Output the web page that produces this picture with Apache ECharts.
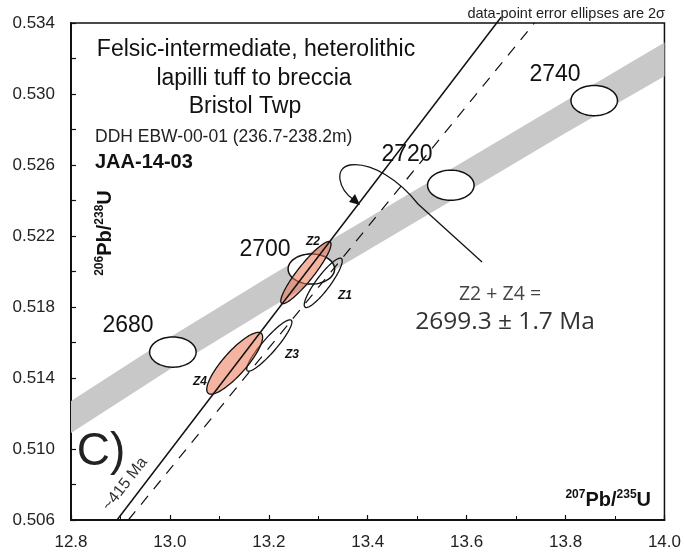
<!DOCTYPE html>
<html>
<head>
<meta charset="utf-8">
<script src="https://cdn.jsdelivr.net/npm/echarts@6/dist/echarts.min.js"></script>
<style>
  html, body { margin: 0; padding: 0; background: #fff; }
  #main { width: 684px; height: 552px; }
</style>
</head>
<body>
<div id="main"></div>
<script>
/* concordia band */
var bandX = [12.8, 13.0, 13.2, 13.4, 13.6, 13.8, 14.0];
var bandUpper = [0.5127, 0.5163, 0.5197, 0.5230, 0.5263, 0.5296, 0.5329];
var bandLower = [0.5109, 0.5145, 0.5179, 0.5212, 0.5245, 0.5278, 0.5310];

/* age markers on the concordia */
var ageLabels = ["2680", "2700", "2720", "2740"];
var ageX = [13.006, 13.286, 13.568, 13.858];
var ageY = [0.51546, 0.52014, 0.52486, 0.52963];
var ageErrX = [0.047, 0.047, 0.047, 0.047];
var ageErrY = [0.00085, 0.00085, 0.00085, 0.00085];

/* zircon analyses (2 sigma ellipses) */
var grains = ["Z1", "Z2", "Z3", "Z4"];
var grainX = [13.310, 13.275, 13.201, 13.131];
var grainY = [0.51936, 0.51994, 0.51583, 0.51483];
var grainErrX = [0.0384, 0.0508, 0.0457, 0.0565];
var grainErrY = [0.00139, 0.00175, 0.00145, 0.00174];
var grainRho = [0.890, 0.915, 0.914, 0.845];
var grainUsed = [0, 1, 0, 1];

/* discordia lines (solid runs just past the top frame) */
var solidX = [12.893, 13.670];
var solidY = [0.506, 0.53434];
var dashX = [12.916, 13.737];
var dashY = [0.506, 0.534];

var xTicks = [12.8, 13.0, 13.2, 13.4, 13.6, 13.8, 14.0];
var yTicks = [0.506, 0.510, 0.514, 0.518, 0.522, 0.526, 0.530, 0.534];

var FONT = "Liberation Sans";

function ellipsePoints(api, cx, cy, sx, sy, rho) {
    var pts = [];
    var k = Math.sqrt(1 - rho * rho);
    for (var i = 0; i < 90; i++) {
        var t = i / 90 * Math.PI * 2;
        var u = Math.cos(t), v = Math.sin(t);
        pts.push(api.coord([cx + sx * u, cy + sy * (rho * u + k * v)]));
    }
    return pts;
}

function label(x, y, text, font, fill, align) {
    return {
        type: "text", x: x, y: y, z: 20,
        style: { text: text, font: font, fill: fill || "#111", textAlign: align || "center", textVerticalAlign: "middle" }
    };
}

var supRich = {
    b: { fontFamily: FONT, fontSize: 20, fontWeight: "bold", fill: "#111", lineHeight: 22 },
    s: { fontFamily: FONT, fontSize: 12, fontWeight: "bold", fill: "#111", verticalAlign: "top", lineHeight: 22, padding: [0, 0, 7, 0] }
};

var chart = echarts.init(document.getElementById("main"));

var option = {
    animation: false,
    backgroundColor: "#fff",
    grid: {
        left: 71, right: 19, top: 23, bottom: 32,
        show: true, borderColor: "#111", borderWidth: 1.5
    },
    xAxis: {
        type: "value",
        min: xTicks[0], max: xTicks[xTicks.length - 1], interval: 0.2,
        axisLine: { show: true, onZero: false, lineStyle: { color: "#111", width: 2 } },
        axisTick: { show: true, inside: true, length: 5, lineStyle: { color: "#111", width: 1.2 } },
        minorTick: { show: true, splitNumber: 2, length: 4, lineStyle: { color: "#111", width: 1 } },
        splitLine: { show: false },
        axisLabel: {
            color: "#222", fontFamily: FONT, fontSize: 17, margin: 14,
            formatter: function (v) { return v.toFixed(1); }
        }
    },
    yAxis: {
        type: "value",
        min: yTicks[0], max: yTicks[yTicks.length - 1], interval: 0.002,
        axisLine: { show: true, onZero: false, lineStyle: { color: "#111", width: 2 } },
        axisTick: { show: true, inside: true, length: 5, lineStyle: { color: "#111", width: 1.2 } },
        splitLine: { show: false },
        axisLabel: {
            color: "#222", fontFamily: FONT, fontSize: 17, margin: 16,
            formatter: function (v) {
                var n = Math.round((v - yTicks[0]) / 0.002);
                return n % 2 === 0 ? v.toFixed(3) : "";
            }
        }
    },
    series: [
        {
            // gray concordia band
            type: "custom",
            z: 1,
            silent: true,
            data: [[bandX[0], bandLower[0]]],
            encode: { x: 0, y: 1 },
            renderItem: function (params, api) {
                var pts = [];
                for (var i = 0; i < bandX.length; i++) pts.push(api.coord([bandX[i], bandUpper[i]]));
                for (var j = bandX.length - 1; j >= 0; j--) pts.push(api.coord([bandX[j], bandLower[j]]));
                return { type: "polygon", shape: { points: pts }, style: { fill: "#c8c8c8" } };
            }
        },
        {
            // age marker ellipses
            type: "custom",
            z: 2,
            silent: true,
            data: ageX.map(function (x, i) { return [x, ageY[i], ageErrX[i], ageErrY[i]]; }),
            encode: { x: 0, y: 1 },
            renderItem: function (params, api) {
                var pts = ellipsePoints(api, api.value(0), api.value(1), api.value(2), api.value(3), 0);
                return { type: "polygon", shape: { points: pts }, style: { fill: "#fff", stroke: "#111", lineWidth: 1.5 } };
            }
        },
        {
            // zircon error ellipses
            type: "custom",
            z: 3,
            silent: true,
            data: grainX.map(function (x, i) {
                return [x, grainY[i], grainErrX[i], grainErrY[i], grainRho[i], grainUsed[i]];
            }),
            encode: { x: 0, y: 1 },
            renderItem: function (params, api) {
                var pts = ellipsePoints(api, api.value(0), api.value(1), api.value(2), api.value(3), api.value(4));
                var used = api.value(5) === 1;
                return {
                    type: "polygon", shape: { points: pts },
                    style: { fill: used ? "rgba(236,118,84,0.55)" : "none", stroke: "#111", lineWidth: 1.3 }
                };
            }
        },
        {
            type: "line",
            z: 5,
            silent: true,
            clip: false,
            symbol: "none",
            data: solidX.map(function (x, i) { return [x, solidY[i]]; }),
            lineStyle: { color: "#111", width: 1.5 }
        },
        {
            type: "line",
            z: 5,
            silent: true,
            symbol: "none",
            data: dashX.map(function (x, i) { return [x, dashY[i]]; }),
            lineStyle: { color: "#111", width: 1.2, type: [11, 9] }
        }
    ],
    graphic: [
        label(256, 50, "Felsic-intermediate, heterolithic", "23px " + FONT),
        label(254, 79, "lapilli tuff to breccia", "23px " + FONT),
        label(245, 107, "Bristol Twp", "23px " + FONT),
        label(95, 137, "DDH EBW-00-01 (236.7-238.2m)", "17.5px " + FONT, "#222", "left"),
        label(95, 162, "JAA-14-03", "bold 20px " + FONT, "#111", "left"),
        label(665, 14, "data-point error ellipses are 2\u03c3", "14.5px " + FONT, "#222", "right"),

        label(128, 326, ageLabels[0], "23px " + FONT),
        label(265, 250, ageLabels[1], "23px " + FONT),
        label(407, 155, ageLabels[2], "23px " + FONT),
        label(555, 75, ageLabels[3], "23px " + FONT),

        label(345, 296, grains[0], "italic bold 12px " + FONT),
        label(313, 242, grains[1], "italic bold 12px " + FONT),
        label(292, 355, grains[2], "italic bold 12px " + FONT),
        label(200, 382, grains[3], "italic bold 12px " + FONT),

        label(500, 294, "Z2 + Z4 =", "19.5px 'Open Sans'", "#444"),
        label(505, 322, "2699.3 \u00b1 1.7 Ma", "24.5px 'Open Sans'", "#333"),

        label(101, 452, "C)", "46px " + FONT, "#222"),
        {
            type: "text", x: 125, y: 484, z: 20, rotation: 52 * Math.PI / 180,
            style: { text: "~415 Ma", font: "16px " + FONT, fill: "#333", textAlign: "center", textVerticalAlign: "middle" }
        },
        {
            type: "text", x: 105, y: 233, z: 20, rotation: Math.PI / 2,
            style: { text: "{s|206}{b|Pb/}{s|238}{b|U}", textAlign: "center", textVerticalAlign: "middle", rich: supRich }
        },
        {
            type: "text", x: 651, y: 500, z: 20,
            style: { text: "{s|207}{b|Pb/}{s|235}{b|U}", textAlign: "right", textVerticalAlign: "middle", rich: supRich }
        },

        /* pointer loop to the upper intercept */
        {
            type: "line", z: 10,
            shape: { x1: 482, y1: 262, x2: 418, y2: 204 },
            style: { stroke: "#111", lineWidth: 1.3 }
        },
        {
            type: "bezierCurve", z: 10,
            shape: { x1: 418, y1: 204, cpx1: 400, cpy1: 181, cpx2: 372, cpy2: 162, x2: 350, y2: 165 },
            style: { fill: "none", stroke: "#111", lineWidth: 1.3 }
        },
        {
            type: "bezierCurve", z: 10,
            shape: { x1: 350, y1: 165, cpx1: 334, cpy1: 168, cpx2: 338, cpy2: 189, x2: 354, y2: 200 },
            style: { fill: "none", stroke: "#111", lineWidth: 1.3 }
        },
        {
            type: "polygon", z: 10,
            shape: { points: [[360, 205], [349, 202], [355, 194]] },
            style: { fill: "#111" }
        }
    ]
};

chart.setOption(option);
</script>
</body>
</html>
